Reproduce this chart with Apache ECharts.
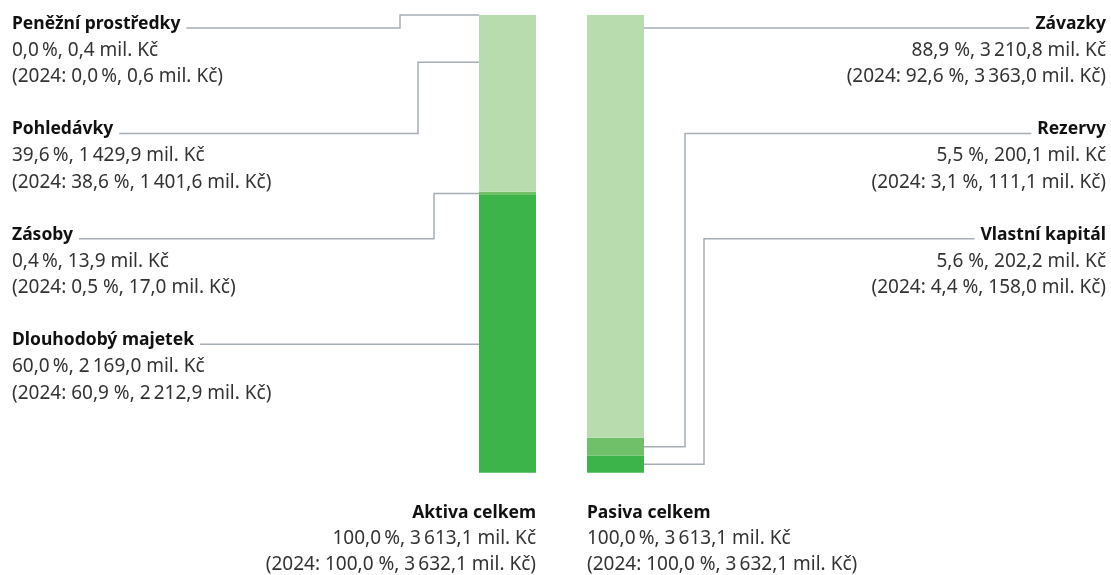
<!DOCTYPE html>
<html><head><meta charset="utf-8">
<script src="https://cdn.jsdelivr.net/npm/echarts@6/dist/echarts.min.js"></script>
<style>html,body{margin:0;padding:0;background:#fff}#c{width:1111px;height:575px}</style>
</head><body><div id="c"></div>
<script>
// ---- data ----
const barCategories = ['Aktiva celkem', 'Pasiva celkem'];
// Aktiva, stacked bottom -> top
const aktivaNames = ['Dlouhodobý majetek', 'Zásoby', 'Pohledávky', 'Peněžní prostředky'];
const aktivaShare = [60.0, 0.4, 39.6, 0.0];
const aktivaValue = [2169.0, 13.9, 1429.9, 0.4];
const aktivaShare2024 = [60.9, 0.5, 38.6, 0.0];
const aktivaValue2024 = [2212.9, 17.0, 1401.6, 0.6];
const aktivaBar = [2192.0, 26.0, 1394.7, 0.4];      // segment heights as drawn in the picture
// Pasiva, stacked bottom -> top
const pasivaNames = ['Vlastní kapitál', 'Rezervy', 'Závazky'];
const pasivaShare = [5.6, 5.5, 88.9];
const pasivaValue = [202.2, 200.1, 3210.8];
const pasivaShare2024 = [4.4, 3.1, 92.6];
const pasivaValue2024 = [158.0, 111.1, 3363.0];
const pasivaBar = [134.0, 142.0, 3337.1];           // segment heights as drawn in the picture
const totalShare = 100.0, totalValue = 3613.1;
const totalShare2024 = 100.0, totalValue2024 = 3632.1;
// where the leader line touches the bar (value on the axis); null = midpoint / straight
const aktivaTouch = [null, null, 3240, 3613.1];

// ---- styles ----
const LAYER_COLORS = ['#3cb44a', '#6fc068', '#b8dcae', '#b8dcae'];
const FONT_FAMILY = '"Noto Sans", sans-serif';
const FS = 19;
const FS_B = 17.5;
const LINE = '#a5aeb7';
const TXT = '#333333';
const TITLE = '#111111';
const THIN = '\u2009';

function fmt(n) {
  const s = n.toFixed(1).split('.');
  const i = s[0].replace(/\B(?=(\d{3})+(?!\d))/g, THIN);
  return i + ',' + s[1];
}
function line1(sh, v, sp) { return fmt(sh) + sp + '%, ' + fmt(v) + ' mil. Kč'; }
function line2(sh, v, sp) { return '(2024: ' + fmt(sh) + sp + '%, ' + fmt(v) + ' mil. Kč)'; }

const chart = echarts.init(document.getElementById('c'), null, { renderer: 'canvas' });
const nLayers = 4;
const series = [];
for (let k = 0; k < nLayers; k++) {
  series.push({
    type: 'bar', stack: 'total', barWidth: 57, silent: true,
    itemStyle: { color: LAYER_COLORS[k] },
    data: [aktivaBar[k] !== undefined ? aktivaBar[k] : '-', pasivaBar[k] !== undefined ? pasivaBar[k] : '-']
  });
}
chart.setOption({
  animation: false,
  grid: { left: 453.5, width: 216, top: 15, height: 457.7 },
  xAxis: { type: 'category', data: barCategories, show: false },
  yAxis: { type: 'value', min: 0, max: totalValue, show: false },
  series: series
});

const ctx = document.createElement('canvas').getContext('2d');
function fontOf(bold) { return bold ? ('bold ' + FS_B + 'px ' + FONT_FAMILY) : (FS + 'px ' + FONT_FAMILY); }
function tw(t, bold) { ctx.font = fontOf(bold); return ctx.measureText(t).width; }
const yPix = v => chart.convertToPixel({ yAxisIndex: 0 }, v);
const xPix = i => chart.convertToPixel({ xAxisIndex: 0 }, i);
const halfW = 28.5;
const aLeft = xPix(0) - halfW, pRight = xPix(1) + halfW;

const g = [];
function text(t, x, y, bold, align) {
  g.push({ type: 'text', x: x, y: y, silent: true,
    style: { text: t, fill: bold ? TITLE : TXT, font: fontOf(bold),
      align: align, verticalAlign: 'middle', textAlign: align, textVerticalAlign: 'middle' } });
}
function poly(pts) {
  g.push({ type: 'polyline', silent: true, shape: { points: pts }, style: { stroke: LINE, lineWidth: 1.5, fill: null } });
}
function rowY(i) { return 28 + 105.4 * i; }

// left labels (top -> bottom = aktiva index 3..0)
const leftElbow = [400, 418, 434, null];
const aCum = []; { let c = 0; for (let k = 0; k < aktivaBar.length; k++) { aCum.push(c); c += aktivaBar[k]; } }
for (let r = 0; r < 4; r++) {
  const k = 3 - r;
  const ly = rowY(r);
  const ty = ly - 4;
  const x0 = 12;
  text(aktivaNames[k], x0, ty, true, 'left');
  text(line1(aktivaShare[k], aktivaValue[k], THIN), x0, ty + 26.5, false, 'left');
  text(line2(aktivaShare2024[k], aktivaValue2024[k], r === 0 ? THIN : ' '), x0, ty + 53, false, 'left');
  const sx = x0 + tw(aktivaNames[k], true) + 6;
  let touchY;
  if (aktivaTouch[k] !== null) touchY = yPix(aktivaTouch[k]);
  else if (leftElbow[r] === null) touchY = ly;
  else touchY = yPix(aCum[k] + aktivaBar[k] / 2);
  if (leftElbow[r] === null) poly([[sx, ly], [aLeft, ly]]);
  else poly([[sx, ly], [leftElbow[r], ly], [leftElbow[r], touchY], [aLeft, touchY]]);
}

// right labels (top -> bottom = pasiva index 2..0)
const rightElbow = [null, 685, 704];
const pCum = []; { let c = 0; for (let k = 0; k < pasivaBar.length; k++) { pCum.push(c); c += pasivaBar[k]; } }
for (let r = 0; r < 3; r++) {
  const k = 2 - r;
  const ly = rowY(r);
  const ty = ly - 4;
  const x1 = 1106;
  text(pasivaNames[k], x1, ty, true, 'right');
  text(line1(pasivaShare[k], pasivaValue[k], ' '), x1, ty + 26.5, false, 'right');
  text(line2(pasivaShare2024[k], pasivaValue2024[k], ' '), x1, ty + 53, false, 'right');
  const ex = x1 - tw(pasivaNames[k], true) - 6;
  if (rightElbow[r] === null) poly([[pRight, ly], [ex, ly]]);
  else {
    const touchY = yPix(pCum[k] + pasivaBar[k] / 2);
    poly([[ex, ly], [rightElbow[r], ly], [rightElbow[r], touchY], [pRight, touchY]]);
  }
}

// totals under bars
const by = 513;
text(barCategories[0], aLeft + 57, by, true, 'right');
text(line1(totalShare, totalValue, THIN), aLeft + 57, by + 26, false, 'right');
text(line2(totalShare2024, totalValue2024, ' '), aLeft + 57, by + 52, false, 'right');
const pLeft = pRight - 57;
text(barCategories[1], pLeft, by, true, 'left');
text(line1(totalShare, totalValue, THIN), pLeft, by + 26, false, 'left');
text(line2(totalShare2024, totalValue2024, ' '), pLeft, by + 52, false, 'left');

chart.setOption({ graphic: { elements: g } });
</script></body></html>
